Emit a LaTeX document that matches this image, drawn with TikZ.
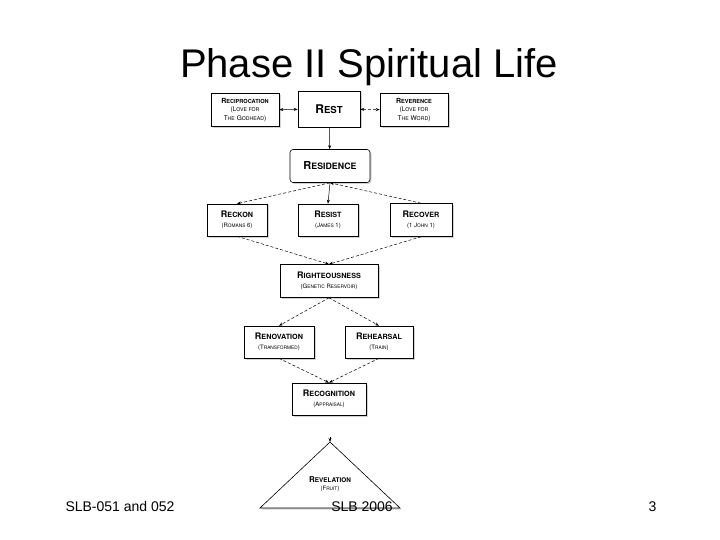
\documentclass[tikz,border=0pt]{standalone}
\usepackage{fontspec}
\setmainfont{Liberation Sans}
\setsansfont{TeX Gyre Heros}
\usetikzlibrary{shadows,arrows.meta}
\begin{document}
\begin{tikzpicture}[x=1pt,y=-1pt,
  bx/.style={draw=black,fill=white,line width=0.6pt,drop shadow={opacity=0.35,shadow xshift=1.5pt,shadow yshift=-1.5pt},font=\sffamily\bfseries\fontsize{9}{9}\selectfont,align=center,inner sep=0pt},
  con/.style={line width=0.5pt,-{Stealth[length=4pt,width=3pt]}},
  dcon/.style={con,dash pattern=on 3pt off 2pt}]
\useasboundingbox (0,0) rectangle (720,540);
\node at (369,67) {\fontsize{40}{40}\selectfont Phase II Spiritual Life};
\node[anchor=base west] at (62,511) {\fontsize{14}{14}\selectfont SLB-051 and 052};
\node[anchor=base east] at (660,511) {\fontsize{14}{14}\selectfont 3};
\node[bx,minimum width=68pt,minimum height=33pt] (recip) at (245,110) {\fontsize{7}{7}\selectfont R\scalebox{0.8}{ECIPROCATION}\\[-0.5pt]{\mdseries\fontsize{6.5}{6.5}\selectfont (L\scalebox{0.8}{OVE FOR}}\\[-0.5pt]{\mdseries\fontsize{6.5}{6.5}\selectfont T\scalebox{0.8}{HE} G\scalebox{0.8}{ODHEAD})}};
\node[bx,minimum width=62pt,minimum height=36pt] (rest) at (329,109) {\fontsize{12}{12}\selectfont R\scalebox{0.8}{EST}};
\node[bx,minimum width=68pt,minimum height=33pt] (rev) at (414,110) {\fontsize{7}{7}\selectfont R\scalebox{0.8}{EVERENCE}\\[-0.5pt]{\mdseries\fontsize{6.5}{6.5}\selectfont (L\scalebox{0.8}{OVE FOR}}\\[-0.5pt]{\mdseries\fontsize{6.5}{6.5}\selectfont T\scalebox{0.8}{HE} W\scalebox{0.8}{ORD})}};
\node[bx,rounded corners=3pt,minimum width=80pt,minimum height=33pt] (res) at (330,166) {\fontsize{11}{11}\selectfont R\scalebox{0.8}{ESIDENCE}};
\node[bx,minimum width=60pt,minimum height=32pt] (reck) at (237,220) {R\scalebox{0.8}{ECKON}\\[1pt]{\mdseries\fontsize{6}{6}\selectfont (R\scalebox{0.8}{OMANS} 6)}};
\node[bx,minimum width=60pt,minimum height=32pt] (resi) at (328,220) {R\scalebox{0.8}{ESIST}\\[1pt]{\mdseries\fontsize{6}{6}\selectfont (J\scalebox{0.8}{AMES} 1)}};
\node[bx,minimum width=62pt,minimum height=33pt] (reco) at (421,220) {R\scalebox{0.8}{ECOVER}\\[1pt]{\mdseries\fontsize{6}{6}\selectfont (1 J\scalebox{0.8}{OHN} 1)}};
\node[bx,minimum width=98pt,minimum height=33pt] (right) at (329,281) {R\scalebox{0.8}{IGHTEOUSNESS}\\[1pt]{\mdseries\fontsize{6}{6}\selectfont (G\scalebox{0.8}{ENETIC} R\scalebox{0.8}{ESERVOIR})}};
\node[bx,minimum width=70pt,minimum height=32pt] (reno) at (279,342) {R\scalebox{0.8}{ENOVATION}\\[1pt]{\mdseries\fontsize{6}{6}\selectfont (T\scalebox{0.8}{RANSFORMED})}};
\node[bx,minimum width=68pt,minimum height=32pt] (reh) at (379,342) {R\scalebox{0.8}{EHEARSAL}\\[1pt]{\mdseries\fontsize{6}{6}\selectfont (T\scalebox{0.8}{RAIN})}};
\node[bx,minimum width=74pt,minimum height=32pt] (recog) at (329,399) {R\scalebox{0.8}{ECOGNITION}\\[1pt]{\mdseries\fontsize{6}{6}\selectfont (A\scalebox{0.8}{PPRAISAL})}};
\coordinate (apex) at (330,442);
\coordinate (apin) at (330,437);
\draw[line width=0.6pt,fill=white,drop shadow={opacity=0.35,shadow xshift=1.5pt,shadow yshift=-1.5pt}] (apex) -- (400,508) -- (260,508) -- cycle;
\node[font=\sffamily\bfseries\fontsize{8}{8}\selectfont,align=center] (revel) at (330,484) {R\scalebox{0.8}{EVELATION}\\[0pt]{\mdseries\fontsize{6}{6}\selectfont (F\scalebox{0.8}{RUIT})}};
\node[anchor=base] (slb) at (362,511) {\fontsize{14}{14}\selectfont SLB 2006};
\draw[con,{Stealth[length=4pt,width=3pt]}-{Stealth[length=4pt,width=3pt]}] (recip) -- (rest);
\draw[dcon,{Stealth[length=4pt,width=3pt]}-{Stealth[length=4pt,width=3pt]}] (rest) -- (rev);
\draw[con] (rest) -- (res);
\draw[dcon] (res.south) -- (reck.north);
\draw[con] (res.south) -- (resi.north);
\draw[dcon] (reco.north) -- (res.south);
\draw[dcon] (reck.south) -- (right.north);
\draw[dcon] (reco.south) -- (right.north);
\draw[dcon] (right.south) -- (reno.north);
\draw[dcon] (right.south) -- (reh.north);
\draw[dcon] (reno.south) -- (recog.north);
\draw[dcon] (reh.south) -- (recog.north);
\draw[con] (apin) -- (apex);
\end{tikzpicture}
\end{document}
